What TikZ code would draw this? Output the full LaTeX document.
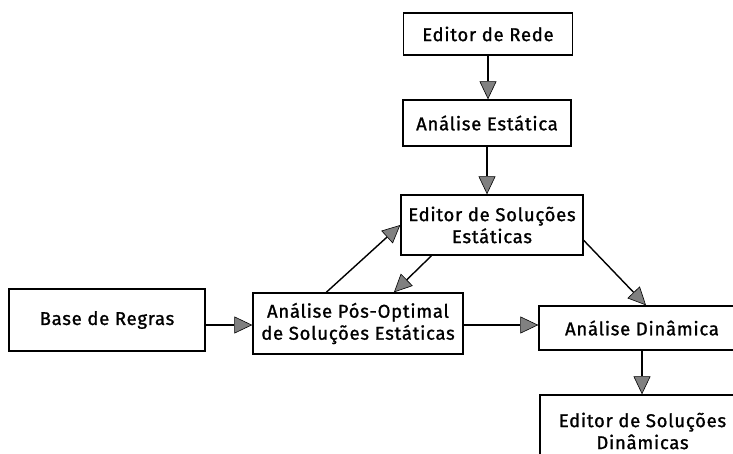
\documentclass[tikz,border=0pt]{standalone}
\usepackage{fontspec}
\setmainfont{Fira Sans}
\newfontfamily\caixafont{Fira Sans}[FakeBold=1.2,LetterSpace=4]
\usepackage{tikz}
\usetikzlibrary{calc,arrows.meta}

\begin{document}
\begin{tikzpicture}[x=1pt,y=1pt,
		caixa/.style={draw,line width=1.4pt,align=center,inner sep=2pt,
			font=\caixafont\fontsize{18.5}{22}\selectfont},
		seta/.style={line width=1.4pt,-{Triangle[length=18pt,width=17pt,fill=gray,line width=0.6pt]}},
		]
		\useasboundingbox (0,0) rectangle (733,453);
		\clip (0,0) rectangle (733,453);
		
		% coluna central
		\node[caixa,minimum width=169pt,minimum height=42pt] (rede) at (488,419) {Editor de Rede};
		\node[caixa,minimum width=168pt,minimum height=46pt] (estat) at (487,330) {Análise Estática};
		\node[caixa,minimum width=182pt,minimum height=60pt] (edest) at (492,228) {Editor de Soluções\\Estáticas};
		
		% linha de baixo
		\node[caixa,minimum width=196pt,minimum height=62pt] (base) at (107,133) {Base de Regras};
		\node[caixa,minimum width=210pt,minimum height=61pt] (pos) at (358,129.5) {Análise Pós-Optimal\\de Soluções Estáticas};
		\node[caixa,minimum width=206pt,minimum height=44pt] (din) at (642,125) {Análise Dinâmica};
		\node[caixa,minimum width=205pt,minimum height=72pt] (eddin) at (642.5,22) {Editor de Soluções\\Dinâmicas};
		
		% ligacoes
		\draw[seta] (rede) -- (rede |- estat.north);
		\draw[seta] (estat) -- (estat |- edest.north);
		\draw[seta] ($(pos.north west)!.35!(pos.north east)$) -- (edest.west);
		\draw[seta] ($(edest.south west)!.17!(edest.south east)$) -- ($(pos.north west)!.67!(pos.north east)$);
		\draw[seta] ($(edest.east)!.5!(edest.south east)$) -- ($(din.north)+(4,0)$);
		\draw[seta] (base.east |- 0,128) -- (pos.west |- 0,128);
		\draw[seta] (pos.east |- 0,128) -- (din.west |- 0,128);
		\draw[seta] (din.south) -- (din.south |- eddin.north);
	\end{tikzpicture}
\end{document}
